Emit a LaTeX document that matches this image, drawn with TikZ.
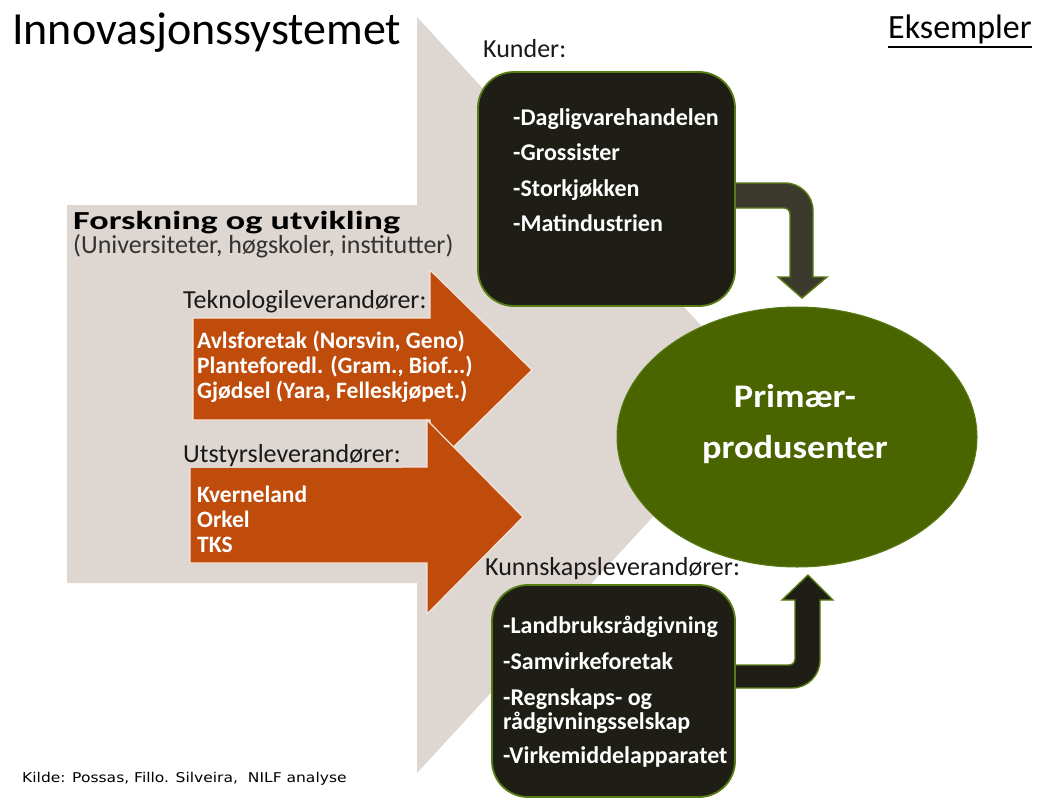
\documentclass[tikz,border=0pt]{standalone}
\usepackage{fontspec}
\setmainfont{Carlito}
\newfontfamily\dejavu{DejaVu Sans}
\usetikzlibrary{calc,shapes.geometric}
\definecolor{beige}{RGB}{221,214,209}
\definecolor{orng}{RGB}{192,76,12}
\definecolor{boxblack}{RGB}{31,30,22}
\definecolor{arrowgrey}{RGB}{60,58,44}
\definecolor{olive}{RGB}{74,100,0}
\definecolor{edgegreen}{RGB}{88,124,20}
\begin{document}
\begin{tikzpicture}[x=1pt,y=-1pt,
  lbl/.style={anchor=base west, inner sep=0pt, font=\fontsize{26}{26}\selectfont, text=black!90},
  boxtxt/.style={anchor=base west, inner sep=0pt, font=\fontsize{24}{24}\selectfont\bfseries, text=white},
  arrtxt/.style={anchor=base west, inner sep=0pt, font=\fontsize{23.5}{25}\selectfont\bfseries, text=white},
  blackbox/.style={draw=edgegreen, line width=1.8pt, fill=boxblack, rounded corners=36pt, inner sep=0pt},
  orangearrow/.style={fill=orng, draw=white!85!orng, line width=1.2pt, line join=miter},
  bendarrow/.style={draw=edgegreen, line width=1.4pt, line join=miter}]

\useasboundingbox (0,0) rectangle (1040,800);
\fill[white] (0,0) rectangle (1040,800);

% big beige arrow
\fill[beige] (67,205) -- (417,205) -- (417,17) -- (765,395) -- (417,773) -- (417,583) -- (67,583) -- cycle;

% orange arrows
\filldraw[orangearrow] (193,318) -- (430,318) -- (430,270) -- (532,370) -- (430,470) -- (430,420) -- (193,420) -- cycle;
\filldraw[orangearrow] (190,467) -- (427,467) -- (427,420) -- (523,517) -- (427,614) -- (427,563) -- (190,563) -- cycle;

% texts
\node[anchor=base west, inner sep=0pt, font=\fontsize{46}{46}\selectfont] (title) at (12,45) {Innovasjonssystemet};
\node[anchor=base west, inner sep=0pt, font=\fontsize{34}{34}\selectfont] (eks) at (888,38) {Eksempler};
\draw[line width=1.5pt] ([yshift=-9pt]eks.base west) -- ([yshift=-9pt]eks.base east);
\node[lbl] (kunderlbl) at (483,58) {Kunder:};
\node[anchor=base west, inner sep=0pt, font=\fontsize{26}{26}\selectfont\bfseries] (fou) at (73,229) {\scalebox{1.39}[1]{Forskning og utvikling}};
\node[lbl, text=black!80] (uni) at (73,253) {(Universiteter, høgskoler, institutter)};
\node[lbl, fill=beige, inner sep=1.5pt] (teklbl) at (181.5,308) {Teknologileverandører:};
\node[lbl, fill=beige, inner sep=1.5pt] (utslbl) at (181.5,462) {Utstyrsleverandører:};
\node[lbl] (kunnlbl) at (485,575) {Kunnskapsleverandører:};

\node[arrtxt] (t1) at (197,348) {Avlsforetak (Norsvin, Geno)};
\node[arrtxt] (t2) at (197,373) {Planteforedl. (Gram., Biof...)};
\node[arrtxt] (t3) at (197,398) {Gjødsel (Yara, Felleskjøpet.)};
\node[arrtxt] (u1) at (197,502) {Kverneland};
\node[arrtxt] (u2) at (197,527) {Orkel};
\node[arrtxt] (u3) at (197,552) {TKS};

% boxes (positions only, for anchors)
\path (606.5,189) node[minimum width=257pt, minimum height=234pt, inner sep=0pt] (kunder) {};
\path (613.5,691) node[minimum width=243pt, minimum height=212pt, inner sep=0pt] (kunnskap) {};

% bent connectors
\filldraw[bendarrow, fill=arrowgrey] (kunder.east |- 0,183) -- (785,183) .. controls (800.5,183) and (813,195.5) .. (813,211) -- (813,277) -- (827,277) -- (802,298) -- (778,277) -- (790,277) -- (790,214) .. controls (790,210.7) and (787.3,208) .. (784,208) -- (kunder.east |- 0,208) -- cycle;
\filldraw[bendarrow, fill=boxblack] (kunnskap.east |- 0,665) -- (789,665) .. controls (792.3,665) and (795,662.3) .. (795,659) -- (795,600) -- (782,600) -- (808,575) -- (833,600) -- (820,600) -- (820,660) .. controls (820,675.5) and (807.5,688) .. (792,688) -- (kunnskap.east |- 0,688) -- cycle;

% black boxes drawn
\path (kunder.center) node[blackbox, minimum width=257pt, minimum height=234pt] (kunderbox) {};
\path (kunnskap.center) node[blackbox, minimum width=243pt, minimum height=212pt] (kunnskapbox) {};

\node[boxtxt] (k1) at (513,125) {-Dagligvarehandelen};
\node[boxtxt] (k2) at (513,160) {-Grossister};
\node[boxtxt] (k3) at (513,196) {-Storkjøkken};
\node[boxtxt] (k4) at (513,231) {-Matindustrien};

\node[boxtxt] (n1) at (503,633) {-Landbruksrådgivning};
\node[boxtxt] (n2) at (503,669) {-Samvirkeforetak};
\node[boxtxt] (n3) at (503,705) {-Regnskaps- og};
\node[boxtxt] (n4) at (503,729) {rådgivningsselskap};
\node[boxtxt] (n5) at (503,763) {-Virkemiddelapparatet};

% ellipse
\node[ellipse, fill=olive, draw=edgegreen, line width=1pt, minimum width=360pt, minimum height=260pt, inner sep=0pt] (prim) at (797,437) {};
\node[anchor=base, inner sep=0pt, text=white, font=\fontsize{33}{33}\selectfont\bfseries] (p1) at (795,407) {\scalebox{1.1}[1]{Primær-}};
\node[anchor=base, inner sep=0pt, text=white, font=\fontsize{33}{33}\selectfont\bfseries] (p2) at (795,458) {\scalebox{1.1}[1]{produsenter}};

\node[anchor=base west, inner sep=0pt, font=\dejavu\fontsize{13.5}{13.5}\selectfont] (kilde) at (22,782) {\scalebox{1.15}[1]{Kilde: Possas, Fillo. Silveira,\ \ NILF analyse}};
\end{tikzpicture}
\end{document}
